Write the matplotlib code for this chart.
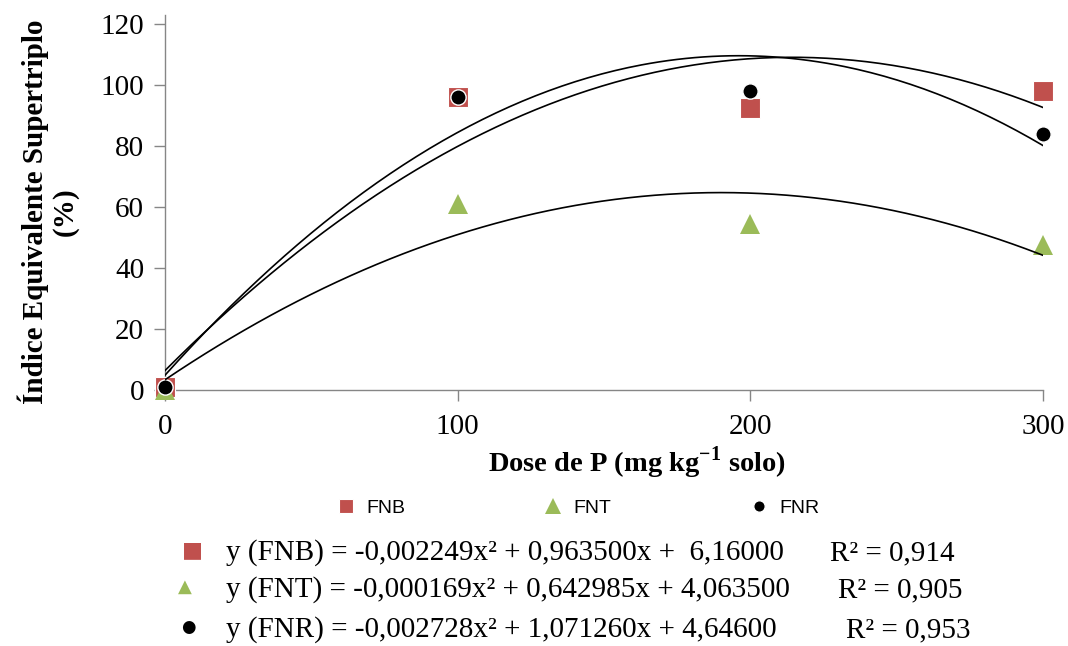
import numpy as np
import matplotlib
matplotlib.use("Agg")
import matplotlib.pyplot as plt
from matplotlib import font_manager

plt.rcParams["font.family"] = ["Liberation Serif", "DejaVu Serif"]
plt.rcParams["mathtext.fontset"] = "custom"
plt.rcParams["mathtext.rm"] = "Liberation Serif"
plt.rcParams["mathtext.bf"] = "Liberation Serif:bold"

# data
doses = [0, 100, 200, 300]
fnb = [1.0, 96.0, 92.5, 98.0]
fnt = [0.0, 61.0, 54.5, 47.5]
fnr = [1.0, 96.0, 98.0, 84.0]

names = ["FNB", "FNT", "FNR"]
equations = [
    "y (FNB) = -0,002249x² + 0,963500x +  6,16000",
    "y (FNT) = -0,000169x² + 0,642985x + 4,063500",
    "y (FNR) = -0,002728x² + 1,071260x + 4,64600",
]
r2_labels = ["R² = 0,914", "R² = 0,905", "R² = 0,953"]

red = "#C0504D"
green = "#9BBB59"
gray = "#868686"

installed = {f.name for f in font_manager.fontManager.ttflist}
legend_font = "Liberation Sans Narrow" if "Liberation Sans Narrow" in installed else "Liberation Sans"

fig = plt.figure(figsize=(10.68, 6.46), dpi=100)
ax = fig.add_axes([0.1545, 0.3963, 0.8221, 0.5805])

h1, = ax.plot(doses, fnb, "s", color=red, markersize=14, markeredgecolor="white",
              markeredgewidth=0.8, clip_on=False, zorder=3)
h2, = ax.plot(doses, fnt, "^", color=green, markersize=15, markeredgewidth=0,
              clip_on=False, zorder=4)
h3, = ax.plot(doses, fnr, "o", color="black", markersize=11, markeredgecolor="white",
              markeredgewidth=1.0, clip_on=False, zorder=5)

# quadratic trend lines
xs = np.linspace(0, 300, 200)
for ys in (fnb, fnt, fnr):
    c = np.polyfit(doses, ys, 2)
    ax.plot(xs, np.polyval(c, xs), color="black", lw=1.2, zorder=6)

ax.set_xlim(0, 300)
ax.set_ylim(0, 122.95)
ax.set_xticks([0, 100, 200, 300])
ax.set_yticks(range(0, 121, 20))
ax.spines["top"].set_visible(False)
ax.spines["right"].set_visible(False)
for s in ("left", "bottom"):
    ax.spines[s].set_color(gray)
    ax.spines[s].set_linewidth(1.0)
ax.tick_params(axis="both", colors=gray, labelcolor="black", labelsize=21,
               length=8, width=1.0, direction="out")
ax.tick_params(axis="x", pad=9)
ax.tick_params(axis="y", pad=7)

fig.text(637 / 1068, 1 - 463 / 646, r"Dose de P (mg kg$^{\mathbf{-1}}$ solo)",
         ha="center", va="center", fontsize=20.5, fontweight="bold")
fig.text(48 / 1068, 1 - 212 / 646, "Índice Equivalente Supertriplo\n(%)",
         ha="center", va="center", rotation=90, fontsize=21, fontweight="bold",
         multialignment="center", linespacing=1.15)

fig.legend([h1, h2, h3], names, loc="center", bbox_to_anchor=(573 / 1068, 1 - 508 / 646),
           ncol=3, frameon=False, columnspacing=6.6, handletextpad=0.05,
           markerscale=0.75, prop={"family": legend_font, "size": 14})

eq_y = [553, 590, 630]
eq_marks = [("■", red, 192), ("▲", green, 185), ("●", "black", 188)]
eq_sizes = [16, 13, 12]
r2_x = [830, 838, 846]
for i in range(3):
    sym, col, mx = eq_marks[i]
    fig.text(mx / 1068, 1 - (eq_y[i] - 3) / 646, sym, color=col, ha="center", va="center",
             fontsize=eq_sizes[i], family="DejaVu Sans")
    fig.text(226 / 1068, 1 - eq_y[i] / 646, equations[i], ha="left", va="center", fontsize=21)
    fig.text(r2_x[i] / 1068, 1 - eq_y[i] / 646, r2_labels[i], ha="left", va="center", fontsize=21)

fig.savefig("out.png", dpi=100)
